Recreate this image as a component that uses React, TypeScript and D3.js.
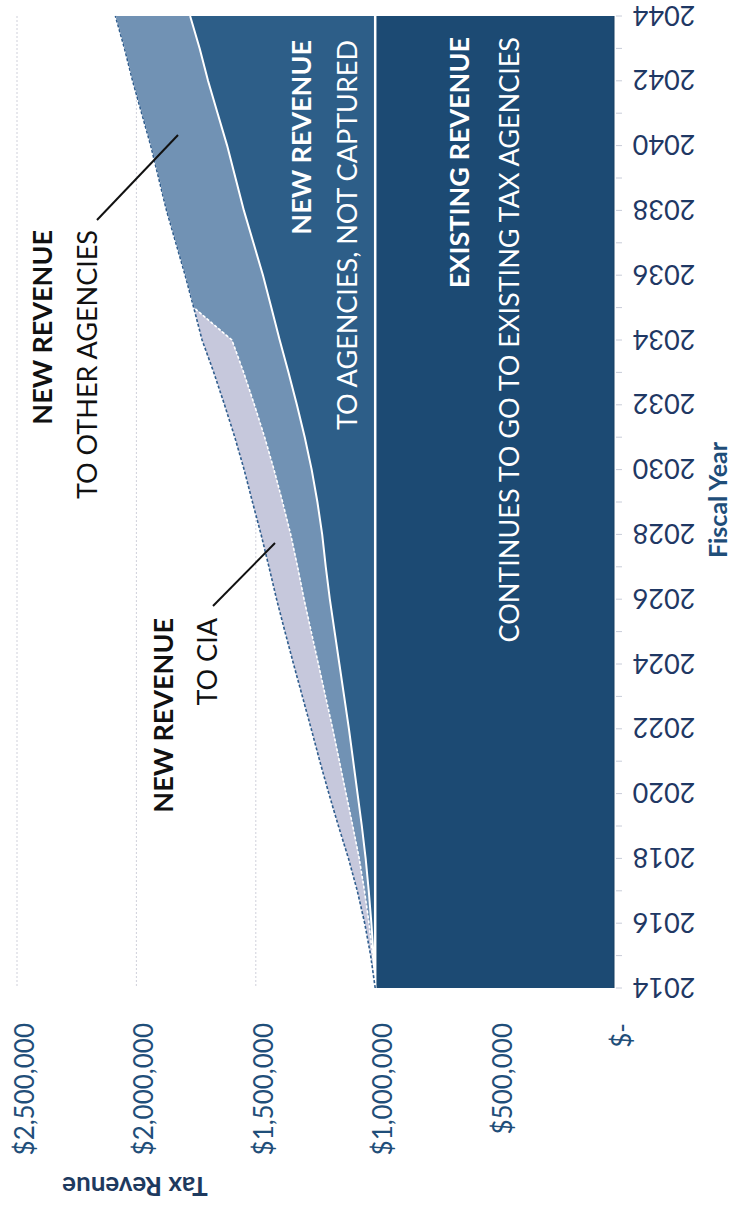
import * as d3 from 'd3';
import { useEffect, useRef } from 'react';

// fiscal years (category axis)
const years = [
  2014, 2015, 2016, 2017, 2018, 2019, 2020, 2021, 2022, 2023, 2024,
  2025, 2026, 2027, 2028, 2029, 2030, 2031, 2032, 2033, 2034,
  2035, 2036, 2037, 2038, 2039, 2040, 2041, 2042, 2043, 2044,
];

// existing revenue, continues to go to existing tax agencies
const existingRevenue = [
  1000000, 1000000, 1000000, 1000000, 1000000, 1000000, 1000000, 1000000, 1000000, 1000000, 1000000,
  1000000, 1000000, 1000000, 1000000, 1000000, 1000000, 1000000, 1000000, 1000000, 1000000,
  1000000, 1000000, 1000000, 1000000, 1000000, 1000000, 1000000, 1000000, 1000000, 1000000,
];

// new revenue to agencies, not captured
const notCaptured = [
  0, 7000, 16000, 27000, 40000, 56000, 74000, 92000, 110000, 130000, 150000,
  170000, 190000, 207000, 222000, 242000, 266000, 295000, 328000, 363000, 400000,
  435000, 470000, 510000, 550000, 585000, 620000, 660000, 700000, 735000, 775000,
];

// new revenue to other agencies
const otherAgencies = [
  0, 4000, 10000, 18000, 27000, 38000, 48000, 58000, 68000, 78000, 88000,
  98000, 108000, 118000, 132000, 146000, 158000, 168000, 178000, 188000, 200000,
  325000, 326000, 325000, 324000, 322000, 320000, 318000, 316000, 315000, 313000,
];

// new revenue to CIA
const toCia = [
  0, 8000, 18000, 30000, 45000, 60000, 72000, 82000, 90000, 97000, 104000,
  110000, 115000, 120000, 124000, 126000, 125000, 125000, 125000, 125000, 125000,
  0, 0, 0, 0, 0, 0, 0, 0, 0, 0,
];

const yearLabels = [2014, 2016, 2018, 2020, 2022, 2024, 2026, 2028, 2030, 2032, 2034, 2036, 2038, 2040, 2042, 2044];
const valueTicks = [0, 500000, 1000000, 1500000, 2000000, 2500000];

const seriesKeys = ['existing', 'notCaptured', 'otherAgencies', 'cia'];
const seriesColors = ['#1c4a73', '#2d5e88', '#7192b4', '#c6c8dc'];

const FONT = 'Lato, "Open Sans", sans-serif';

const Chart = () => {
  const ref = useRef<SVGSVGElement | null>(null);

  useEffect(() => {
    const svg = d3.select(ref.current);
    svg.selectAll('*').remove();

    const W = 733;
    const H = 1209;
    svg.attr('width', W).attr('height', H);
    svg.append('rect').attr('width', W).attr('height', H).attr('fill', '#ffffff');

    // chart is rotated: years run bottom -> top, dollars run right -> left
    const y = d3.scaleLinear().domain([2014, 2044]).range([988, 16]);
    const x = d3.scaleLinear().domain([0, 2500000]).range([614, 17]);

    // gridlines
    svg.append('g')
      .selectAll('line')
      .data(valueTicks.slice(1))
      .enter()
      .append('line')
      .attr('x1', (d) => x(d))
      .attr('x2', (d) => x(d))
      .attr('y1', y(2044))
      .attr('y2', y(2014))
      .attr('stroke', '#cfd0da')
      .attr('stroke-width', 1)
      .attr('stroke-dasharray', '2,2');

    const rows = years.map((yr, i) => ({
      year: yr,
      existing: existingRevenue[i],
      notCaptured: notCaptured[i],
      otherAgencies: otherAgencies[i],
      cia: toCia[i],
    }));

    const stack = d3.stack<any>().keys(seriesKeys);
    const layers = stack(rows);

    const area = d3.area<d3.SeriesPoint<any>>()
      .y((d) => y(d.data.year))
      .x0((d) => x(d[0]))
      .x1((d) => x(d[1]));

    const topLine = d3.line<d3.SeriesPoint<any>>()
      .y((d) => y(d.data.year))
      .x((d) => x(d[1]));

    svg.append('g')
      .selectAll('path')
      .data(layers)
      .enter()
      .append('path')
      .attr('d', (d) => area(d) || '')
      .attr('fill', (d, i) => seriesColors[i]);

    // border lines on top of each layer
    const lineStyles = [
      { stroke: '#ffffff', width: 2.5, dash: null },
      { stroke: '#ffffff', width: 2, dash: null },
      { stroke: '#ffffff', width: 1.6, dash: '3,2' },
      { stroke: '#2f5d8e', width: 1.6, dash: '3,2' },
    ];
    layers.forEach((layer, i) => {
      const st = lineStyles[i];
      svg.append('path')
        .attr('d', topLine(layer) || '')
        .attr('fill', 'none')
        .attr('stroke', st.stroke)
        .attr('stroke-width', st.width)
        .attr('stroke-dasharray', st.dash);
    });

    // baseline edge
    svg.append('line')
      .attr('x1', x(0)).attr('x2', x(0))
      .attr('y1', y(2044)).attr('y2', y(2014))
      .attr('stroke', '#173f63').attr('stroke-width', 1);

    // year ticks
    svg.append('g')
      .selectAll('line')
      .data(years)
      .enter()
      .append('line')
      .attr('x1', x(0) + 2)
      .attr('x2', x(0) + 8)
      .attr('y1', (d) => y(d))
      .attr('y2', (d) => y(d))
      .attr('stroke', '#c8ccd8')
      .attr('stroke-width', 1);

    // year labels (upside down)
    svg.append('g')
      .selectAll('text')
      .data(yearLabels)
      .enter()
      .append('text')
      .attr('transform', (d) => `translate(664, ${y(d)}) rotate(180)`)
      .attr('text-anchor', 'middle')
      .attr('dominant-baseline', 'central')
      .attr('font-family', FONT)
      .attr('font-size', 27)
      .attr('fill', '#1f3864')
      .text((d) => String(d));

    // dollar labels
    const fmt = (v: number) => (v === 0 ? '$-' : '$' + d3.format(',')(v));
    svg.append('g')
      .selectAll('text')
      .data(valueTicks)
      .enter()
      .append('text')
      .attr('transform', (d) => `translate(${x(d) + 7}, 1023) rotate(-90)`)
      .attr('text-anchor', 'end')
      .attr('dominant-baseline', 'central')
      .attr('font-family', FONT)
      .attr('font-size', 26)
      .attr('fill', '#1f4e79')
      .text((d) => fmt(d));

    // axis titles
    svg.append('text')
      .attr('transform', 'translate(717, 500) rotate(-90)')
      .attr('text-anchor', 'middle')
      .attr('dominant-baseline', 'central')
      .attr('font-family', FONT)
      .attr('font-weight', 'bold')
      .attr('font-size', 25)
      .attr('fill', '#1f4e79')
      .text('Fiscal Year');

    svg.append('text')
      .attr('transform', 'translate(135, 1187) rotate(180)')
      .attr('text-anchor', 'middle')
      .attr('dominant-baseline', 'central')
      .attr('font-family', FONT)
      .attr('font-weight', 'bold')
      .attr('font-size', 26)
      .attr('fill', '#1e3a5f')
      .text('Tax Revenue');

    // annotations
    const notes = [
      { x: 300, top: 40, text: 'NEW REVENUE', bold: true, color: '#ffffff' },
      { x: 346, top: 40, text: 'TO AGENCIES, NOT CAPTURED', bold: false, color: '#ffffff' },
      { x: 458, top: 37, text: 'EXISTING REVENUE', bold: true, color: '#ffffff' },
      { x: 508, top: 37, text: 'CONTINUES TO GO TO EXISTING TAX AGENCIES', bold: false, color: '#ffffff' },
      { x: 41, top: 230, text: 'NEW REVENUE', bold: true, color: '#111111' },
      { x: 86, top: 230, text: 'TO OTHER AGENCIES', bold: false, color: '#111111' },
      { x: 162, top: 618, text: 'NEW REVENUE', bold: true, color: '#111111' },
      { x: 206, top: 618, text: 'TO CIA', bold: false, color: '#111111' },
    ];
    svg.append('g')
      .selectAll('text')
      .data(notes)
      .enter()
      .append('text')
      .attr('transform', (d) => `translate(${d.x}, ${d.top}) rotate(-90)`)
      .attr('text-anchor', 'end')
      .attr('dominant-baseline', 'central')
      .attr('font-family', FONT)
      .attr('font-weight', (d) => (d.bold ? 'bold' : 'normal'))
      .attr('font-size', 27)
      .attr('fill', (d) => d.color)
      .text((d) => d.text);

    // leader lines
    const leaders = [
      [97, 220, 178, 135],
      [213, 606, 275, 543],
    ];
    svg.append('g')
      .selectAll('line')
      .data(leaders)
      .enter()
      .append('line')
      .attr('x1', (d) => d[0])
      .attr('y1', (d) => d[1])
      .attr('x2', (d) => d[2])
      .attr('y2', (d) => d[3])
      .attr('stroke', '#111111')
      .attr('stroke-width', 2);
  }, []);

  return <svg ref={ref} style={{ position: 'absolute', left: 0, top: 0 }}></svg>;
};

export default function App() {
  return <Chart />;
}
